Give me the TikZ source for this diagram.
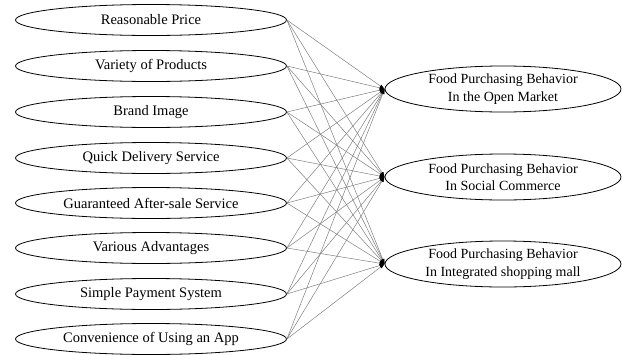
\documentclass[tikz,border=0pt]{standalone}
\usepackage{fontspec}
\setmainfont{Liberation Serif}
\usetikzlibrary{shapes.geometric,arrows.meta}
\begin{document}
\begin{tikzpicture}[x=1pt,y=-1pt,
	factor/.style={ellipse, draw, thick, minimum width=271pt, minimum height=31pt, inner sep=0pt, font=\fontsize{14.5}{16}\selectfont},
	behavior/.style={ellipse, draw, thick, minimum width=236pt, minimum height=46pt, inner sep=0pt, align=center, font=\fontsize{14}{17.5}\selectfont},
	path/.style={draw, gray, line width=0.5pt, -{Latex[length=5pt, width=3.5pt, color=black]}}]
	\useasboundingbox (0,0) rectangle (622,354);
		\node[factor](price) at (151,20) {Reasonable Price};
		\node[factor](variety) at (151,66) {Variety of Products};
		\node[factor](brand) at (151,112) {Brand Image};
		\node[factor](delivery) at (151,158) {Quick Delivery Service};
		\node[factor](service) at (151,203) {Guaranteed After-sale Service};
		\node[factor](advantage) at (151,248) {Various Advantages};
		\node[factor](payment) at (151,294) {Simple Payment System};
		\node[factor](app) at (151,339) {Convenience of Using an App};
		\node[behavior](open) at (503,89) {Food Purchasing Behavior\\In the Open Market};
		\node[behavior](social) at (503,177) {Food Purchasing Behavior\\In Social Commerce};
		\node[behavior](mall) at (503,264) {Food Purchasing Behavior\\In Integrated shopping mall};
		\foreach \f in {price,variety,brand,delivery,service,advantage,payment,app}
			\foreach \b in {open,social,mall}
				\draw[path] (\f.east) -- (\b.west);
	\end{tikzpicture}
\end{document}
